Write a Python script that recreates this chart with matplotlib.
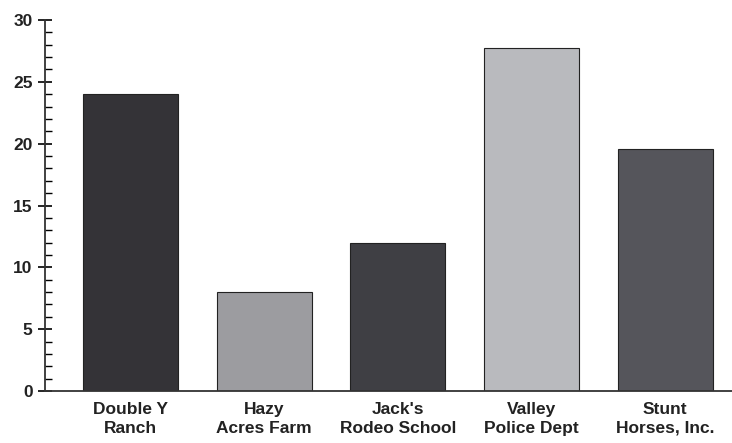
import numpy as np
import matplotlib.pyplot as plt
from matplotlib.ticker import MultipleLocator

# bar chart data
names = ['Double Y\nRanch', 'Hazy\nAcres Farm', "Jack's\nRodeo School",
         'Valley\nPolice Dept', 'Stunt\nHorses, Inc.']
values = [24, 8, 12, 27.7, 19.6]
shades = ['#343337', '#9c9ca0', '#3f3f44', '#b9babe', '#55555b']

plt.rcParams['font.family'] = ['Liberation Sans', 'DejaVu Sans']

fig = plt.figure(figsize=(7.32, 4.43), dpi=100)
ax = fig.add_axes([45/732, 1-391/443, 1-45/732, 371/443])

x = np.arange(len(names))
ax.bar(x, values, width=0.71, color=shades, edgecolor='#222222', linewidth=0.8, zorder=2)

ax.set_xlim(-0.64, 4.5)
ax.set_ylim(0, 30)
ax.yaxis.set_major_locator(MultipleLocator(5))
ax.yaxis.set_minor_locator(MultipleLocator(1))
ax.tick_params(axis='y', which='major', direction='inout', length=10, width=1.2,
               labelsize=12.5, pad=4)
ax.tick_params(axis='y', which='minor', direction='in', length=5, width=1.0)
for lab in ax.get_yticklabels():
    lab.set_fontweight('bold')
    lab.set_color('#222222')

ax.set_xticks(x)
ax.set_xticklabels(names, fontsize=12.5, fontweight='bold', color='#222222',
                   linespacing=1.3)
ax.tick_params(axis='x', length=0, pad=8)

for side in ['top', 'right']:
    ax.spines[side].set_visible(False)
ax.spines['left'].set_linewidth(1.3)
ax.spines['bottom'].set_linewidth(1.3)
ax.spines['left'].set_color('#333333')
ax.spines['bottom'].set_color('#333333')

fig.savefig('out.png', dpi=100)
